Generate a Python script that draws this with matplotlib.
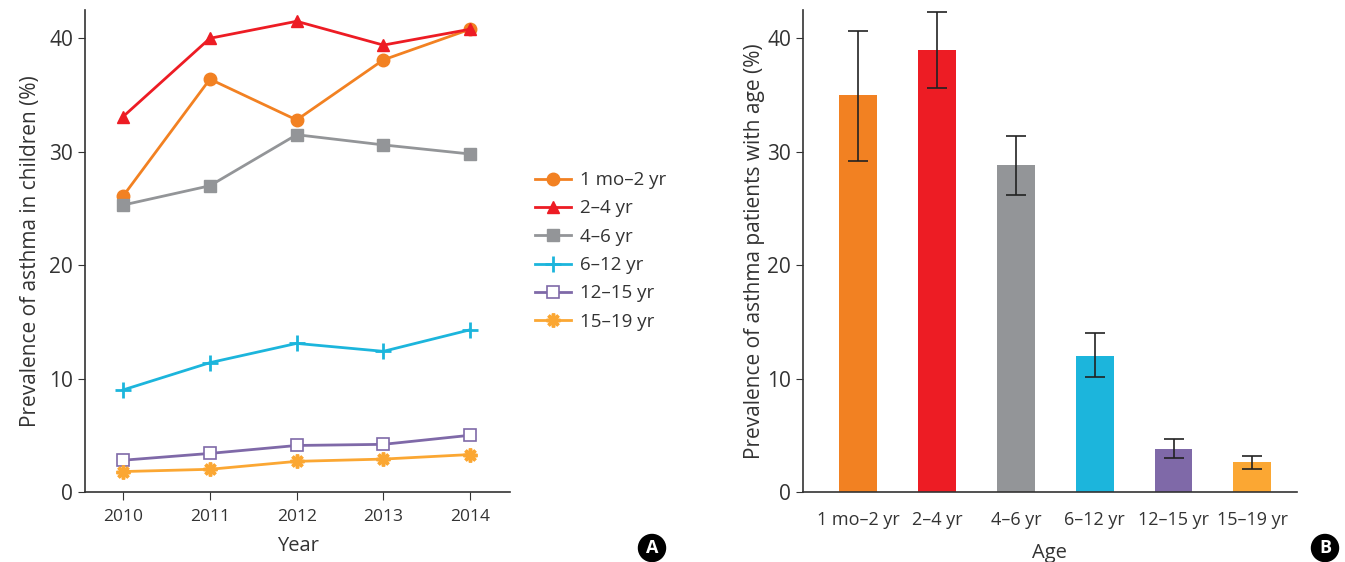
import matplotlib
matplotlib.use('Agg')
import matplotlib.pyplot as plt

plt.rcParams['font.family'] = ['Open Sans', 'DejaVu Sans']

years = [2010, 2011, 2012, 2013, 2014]
groups = ['1 mo\u20132 yr', '2\u20134 yr', '4\u20136 yr', '6\u201312 yr', '12\u201315 yr', '15\u201319 yr']

# panel A: prevalence per year for each age group
prev_1mo_2 = [26.1, 36.4, 32.8, 38.1, 40.8]
prev_2_4 = [33.1, 40.0, 41.5, 39.4, 40.8]
prev_4_6 = [25.3, 27.0, 31.5, 30.6, 29.8]
prev_6_12 = [9.0, 11.4, 13.1, 12.4, 14.3]
prev_12_15 = [2.8, 3.4, 4.1, 4.2, 5.0]
prev_15_19 = [1.8, 2.0, 2.7, 2.9, 3.3]

# panel B: mean prevalence with error bars
bar_vals = [35.0, 39.0, 28.8, 12.0, 3.8, 2.6]
err_low = [29.2, 35.6, 26.2, 10.1, 3.0, 2.0]
err_high = [40.6, 42.3, 31.4, 14.0, 4.7, 3.2]

colors = ['#F28122', '#ED1C24', '#939598', '#1CB5DC', '#7F69A8', '#FBA733']
axcol = '#333333'

fig = plt.figure(figsize=(13.45, 5.62), dpi=100)
axA = fig.add_axes([0.0632, 0.1246, 0.316, 0.8577])
axB = fig.add_axes([0.597, 0.1246, 0.367, 0.8577])

series = [prev_1mo_2, prev_2_4, prev_4_6, prev_6_12, prev_12_15, prev_15_19]
styles = [
    dict(marker='o', ms=9, mfc=colors[0], mec=colors[0]),
    dict(marker='^', ms=9, mfc=colors[1], mec=colors[1]),
    dict(marker='s', ms=8, mfc=colors[2], mec=colors[2]),
    dict(marker='+', ms=11, mew=2, mfc=colors[3], mec=colors[3]),
    dict(marker='s', ms=8, mfc='white', mec=colors[4], mew=1.2),
    dict(marker=(8, 2, 0), ms=10, mew=2.5, mfc=colors[5], mec=colors[5]),
]
for vals, lab, c, st in zip(series, groups, colors, styles):
    axA.plot(years, vals, color=c, lw=2, label=lab, **st)

axA.set_xlim(2009.56, 2014.46)
axA.set_ylim(0, 42.5)
axA.set_xticks(years)
axA.set_yticks([0, 10, 20, 30, 40])
axA.set_xlabel('Year', fontsize=14.5, color=axcol, labelpad=8)
axA.set_ylabel('Prevalence of asthma in children (%)', fontsize=15, color=axcol, labelpad=6)
axA.tick_params(axis='x', labelsize=12.5, colors=axcol, length=6, pad=6)
axA.tick_params(axis='y', labelsize=15, colors=axcol, length=5)
leg = axA.legend(loc='center left', bbox_to_anchor=(1.02, 0.5), frameon=False,
                 fontsize=13.5, labelspacing=0.55, handlelength=1.9, handletextpad=0.5)
for t in leg.get_texts():
    t.set_color(axcol)

x = range(len(groups))
yerr = [[v - lo for v, lo in zip(bar_vals, err_low)], [hi - v for v, hi in zip(bar_vals, err_high)]]
axB.bar(x, bar_vals, width=0.48, color=colors)
axB.errorbar(x, bar_vals, yerr=yerr, fmt='none', ecolor='#222222', elinewidth=1.2, capsize=7, capthick=1.2)
axB.set_xlim(-0.70, 5.56)
axB.set_ylim(0, 42.5)
axB.set_xticks(list(x))
axB.set_xticklabels(groups)
axB.set_yticks([0, 10, 20, 30, 40])
axB.set_xlabel('Age', fontsize=14.5, color=axcol, labelpad=10)
axB.set_ylabel('Prevalence of asthma patients with age (%)', fontsize=15, color=axcol, labelpad=2)
axB.tick_params(axis='x', labelsize=13, colors=axcol, length=0, pad=14)
axB.tick_params(axis='y', labelsize=15, colors=axcol, length=5)

for ax in (axA, axB):
    ax.spines['top'].set_visible(False)
    ax.spines['right'].set_visible(False)
    for s in ('left', 'bottom'):
        ax.spines[s].set_color(axcol)
        ax.spines[s].set_linewidth(1.2)

for px, lab in ((652, 'A'), (1325, 'B')):
    fig.text(px / 1345, 1 - 548 / 562, lab, ha='center', va='center', fontsize=13,
             fontweight='bold', color='white',
             bbox=dict(boxstyle='circle,pad=0.25', fc='black', ec='black'))

fig.savefig('out.png', dpi=100)
